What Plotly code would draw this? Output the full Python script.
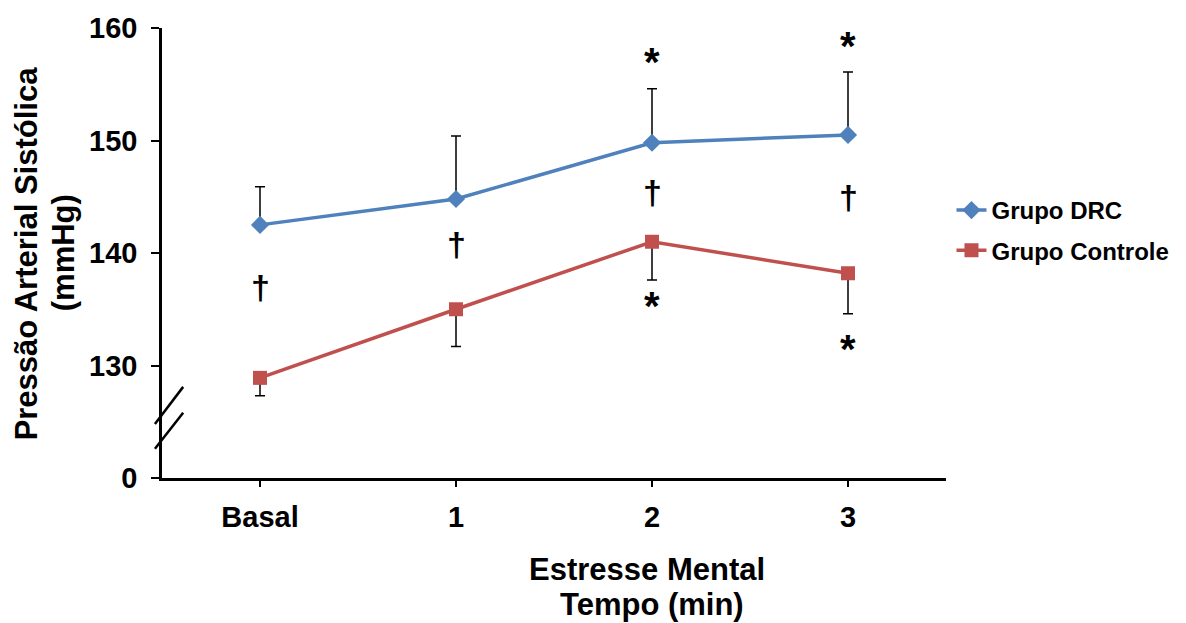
import plotly.graph_objects as go

# Time points of the mental stress protocol
categories = ["Basal", "1", "2", "3"]

# Systolic blood pressure (mmHg), mean and one-sided SD
drc_mean = [142.5, 144.8, 149.8, 150.5]
drc_sd = [3.4, 5.6, 4.8, 5.6]
ctrl_mean = [128.9, 135.0, 141.0, 138.2]
ctrl_sd = [1.6, 3.3, 3.4, 3.6]

# Significance symbols: (category, y)
daggers = [("Basal", 137.0), ("1", 140.8), ("2", 145.4), ("3", 145.0)]
stars = [("2", 157.0), ("3", 158.4), ("2", 135.3), ("3", 131.5)]

# y-axis ticks (the lowest one sits below the axis break)
y_tickvals = [120, 130, 140, 150, 160]
y_ticktext = ["0", "130", "140", "150", "160"]

FONT = "Liberation Sans, Arial, sans-serif"
BLUE = "#4F81BD"
RED = "#C0504D"

fig = go.Figure()

fig.add_trace(go.Scatter(
    x=categories, y=drc_mean, name="Grupo DRC", legendgroup="drc",
    mode="lines+markers",
    line=dict(color=BLUE, width=3.5),
    marker=dict(symbol="diamond", size=14, color=BLUE),
    error_y=dict(type="data", symmetric=False, array=drc_sd,
                 arrayminus=[0] * len(drc_sd), color="black",
                 thickness=1.5, width=5),
))

fig.add_trace(go.Scatter(
    x=categories, y=ctrl_mean, name="Grupo Controle", legendgroup="ctrl",
    mode="lines+markers",
    line=dict(color=RED, width=3.5),
    marker=dict(symbol="square", size=14, color=RED),
    error_y=dict(type="data", symmetric=False, array=[0] * len(ctrl_sd),
                 arrayminus=ctrl_sd, color="black",
                 thickness=1.5, width=5),
))

annotations = []
for cat, yv in daggers:
    annotations.append(dict(
        x=cat, y=yv, xref="x", yref="y", text="<b>†</b>",
        showarrow=False, font=dict(family=FONT, size=34, color="black"),
        xanchor="center", yanchor="middle",
    ))
for cat, yv in stars:
    annotations.append(dict(
        x=cat, y=yv, xref="x", yref="y", text="<b>*</b>",
        showarrow=False, font=dict(family=FONT, size=40, color="black"),
        xanchor="center", yanchor="middle",
    ))

# x-axis title, two lines
for text, yp, dx in [("Estresse Mental", -0.203, -5), ("Tempo (min)", -0.280, 0)]:
    annotations.append(dict(
        x=categories[2], y=yp, xref="x", yref="paper", xshift=dx,
        text=f"<b>{text}</b>", showarrow=False,
        font=dict(family=FONT, size=31, color="black"),
        xanchor="center", yanchor="middle",
    ))

# y-axis title, two lines
for text, xp in [("Pressão Arterial Sistólica", -0.173), ("(mmHg)", -0.126)]:
    annotations.append(dict(
        x=xp, y=0.5, xref="paper", yref="paper",
        text=f"<b>{text}</b>", textangle=-90, showarrow=False,
        font=dict(family=FONT, size=31, color="black"),
        xanchor="center", yanchor="middle",
    ))

# Axis break marks
shapes = []
for y0, y1 in [(124.8, 128.1), (122.6, 125.8)]:
    shapes.append(dict(
        type="line", xref="paper", yref="y",
        x0=-0.009, x1=0.027, y0=y0, y1=y1,
        line=dict(color="black", width=2.5),
    ))

fig.update_layout(
    width=1186, height=623,
    margin=dict(l=162, r=240, t=25, b=145),
    paper_bgcolor="white", plot_bgcolor="white",
    font=dict(family=FONT, color="black"),
    showlegend=True,
    legend=dict(
        x=1.007, y=0.55, xanchor="left", yanchor="middle",
        font=dict(family=FONT, size=24, color="black", weight="bold"),
        tracegroupgap=6, bgcolor="rgba(0,0,0,0)",
    ),
    annotations=annotations,
    shapes=shapes,
)

fig.update_xaxes(
    type="category", range=[-0.5, 3.5],
    showline=True, linecolor="black", linewidth=2.5,
    ticks="outside", ticklen=6, tickwidth=2, tickcolor="black",
    tickfont=dict(family=FONT, size=29, color="black", weight="bold"),
    ticklabelstandoff=5,
    showgrid=False, zeroline=False,
)

fig.update_yaxes(
    range=[120, 160],
    tickvals=y_tickvals, ticktext=y_ticktext,
    showline=True, linecolor="black", linewidth=2.5,
    ticks="outside", ticklen=8, tickwidth=2, tickcolor="black",
    tickfont=dict(family=FONT, size=29, color="black", weight="bold"),
    ticklabelstandoff=8,
    showgrid=False, zeroline=False,
)

fig.write_html("out.html")
